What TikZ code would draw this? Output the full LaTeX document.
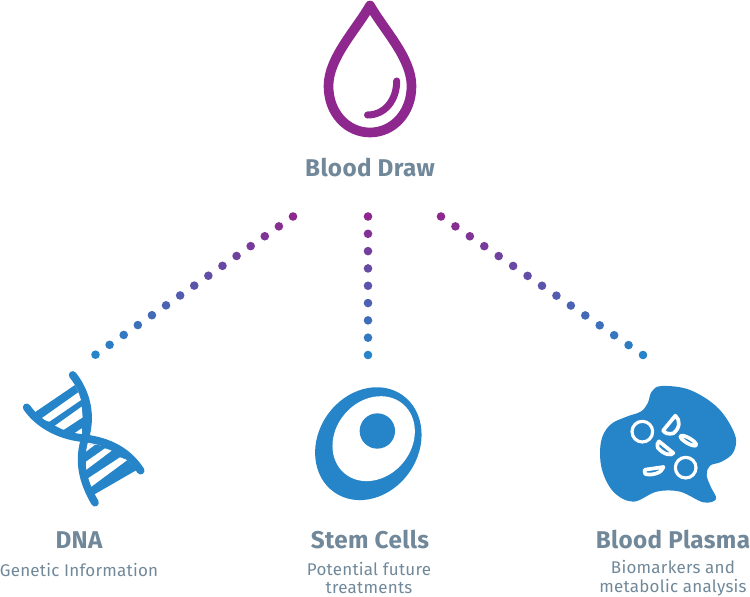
\documentclass[tikz,border=0pt]{standalone}
\usepackage{fontspec}
\setmainfont{Fira Sans}[LetterSpace=1.5]
\usetikzlibrary{calc}
\definecolor{topcol}{HTML}{8E278E}
\definecolor{botcol}{HTML}{2684C8}
\definecolor{textcol}{HTML}{708899}
\tikzset{
  title/.style={text=textcol,font=\fontsize{13.8}{15}\selectfont\bfseries,inner sep=0pt},
  sub/.style={text=textcol,font=\fontsize{9.65}{10.6}\selectfont,align=center,inner sep=0pt},
  cellring/.style={draw=white,line width=1.8pt,line join=round},
  cellbean/.style={draw=white,line width=2.1pt,line join=round}
}
% dotted line, purple end to blue end
\def\DotLine#1#2#3{\foreach \i in {0,...,#3}{
  \pgfmathsetmacro{\t}{\i/#3}
  \pgfmathsetmacro{\c}{100*(1-\t)}
  \fill[topcol!\c!botcol] ($(#1)!\t!(#2)$) circle (4.3);}}
\begin{document}
\begin{tikzpicture}[x=0.02cm,y=-0.02cm]
  \useasboundingbox (0,0) rectangle (750,597);
\coordinate (lefttop) at (293,216.5);
\coordinate (leftbot) at (95.5,354.7);
\coordinate (midtop) at (368,216.5);
\coordinate (midbot) at (368,355);
\coordinate (righttop) at (441,216.5);
\coordinate (rightbot) at (643,355);
\DotLine{lefttop}{leftbot}{14}
\DotLine{midtop}{midbot}{8}
\DotLine{righttop}{rightbot}{14}
% drop
\draw[topcol,line width=5.5pt,line join=round] (370,5.5) .. controls (356,30) and (328.5,58) .. (328.5,86)
  .. controls (328.5,113) and (347,132.5) .. (370,132.5) .. controls (393,132.5) and (411.5,113) .. (411.5,86)
  .. controls (411.5,58) and (384,30) .. cycle;
\draw[topcol,line width=4pt,line cap=round] (396.7,81) .. controls (396.7,100) and (385,115) .. (367.5,115);
\node[title] (draw) at (370,168) {Blood Draw};
% dna
\begin{scope}[shift={(0,360)},scale=1/3]
  \fill[botcol] (100,160) -- (225,75) -- (262,150) -- (262,225) -- (180,225) -- cycle;
  \fill[botcol] (240,250) -- (340,260) -- (410,330) -- (280,405) -- (245,340) -- cycle;
  \fill[white] (122,177) -- (235,97) -- (243,120) -- (148,185) -- cycle;
  \fill[white] (165,197) -- (245,140) -- (248,172) -- (190,210) -- cycle;
  \fill[white] (220,222) -- (245,205) -- (247,225) -- cycle;
  \fill[white] (258,252) -- (285,254) -- (258,275) -- cycle;
  \fill[white] (258,305) -- (315,265) -- (335,272) -- (258,330) -- cycle;
  \fill[white] (264,355) -- (360,292) -- (382,300) -- (270,383) -- cycle;
  \draw[botcol,line width=4.4pt,line cap=round] (218,45) .. controls (262,100) and (275,170) .. (255,235)
    .. controls (235,300) and (245,360) .. (285,428);
  \draw[botcol,line width=4.4pt,line cap=round] (80,142) .. controls (120,200) and (190,230) .. (255,235)
    .. controls (330,245) and (385,275) .. (422,332);
\end{scope}
\node[title] (dna) at (79,540) {DNA};
\node[sub] (dnasub) at (79,569.5) {Genetic Information};
% stem cell
\begin{scope}[shift={(300,375)},scale=1/3]
  \fill[botcol] (205,206) ellipse[x radius=178,y radius=150,rotate=55];
  \fill[white] (221,191) ellipse[x radius=136,y radius=114,rotate=50];
  \fill[botcol] (232,168) circle (53);
\end{scope}
\node[title] (stem) at (370,540) {Stem Cells};
\node[sub] (stemsub) at (369,578) {Potential future\\treatments};
% plasma
\begin{scope}[shift={(590,375)},scale=1/3]
  \fill[botcol] plot[smooth cycle,tension=0.6] coordinates {(215,33) (300,45) (385,100) (435,180) (430,232)
    (395,260) (360,272) (350,300) (362,335) (378,372) (340,382) (270,350) (200,350) (130,380) (70,350) (35,280)
    (33,200) (60,150) (110,125) (152,110) (173,85) (185,50)};
  \draw[cellring] (157,170) circle (31);
  \draw[cellring] (287,278) circle (31);
  \draw[cellbean] (219,167) -- (256,122) .. controls (272,135) and (270,160) .. (250,175) .. controls (237,178) and (226,176) .. cycle;
  \draw[cellbean] (295,197) ellipse[x radius=27,y radius=8,rotate=-30];
  \draw[cellbean] (207,199) -- (250,234) .. controls (245,243) and (222,240) .. (203,218) .. controls (200,210) and (202,203) .. cycle;
  \draw[cellbean] (165,284) -- (221,276) .. controls (215,295) and (185,302) .. (166,297) .. controls (163,293) and (163,288) .. cycle;
\end{scope}
\node[title] (plasma) at (673,540) {Blood Plasma};
\node[sub] (plasmasub) at (673,578) {Biomarkers and\\metabolic analysis};
\end{tikzpicture}
\end{document}
